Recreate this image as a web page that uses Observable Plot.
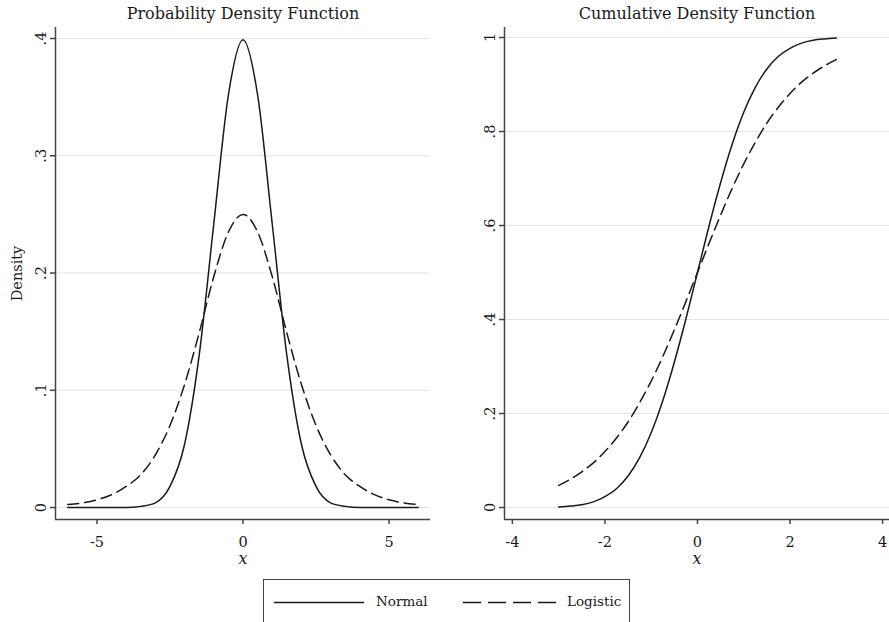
<!DOCTYPE html>
<html>
<head>
<meta charset="utf-8">
<script src="https://cdn.jsdelivr.net/npm/d3@7"></script>
<script src="https://cdn.jsdelivr.net/npm/@observablehq/plot@0.6"></script>
<style>
  html, body { margin: 0; padding: 0; background: #fff; overflow: hidden; }
  #wrap { position: relative; width: 889px; height: 622px; font-family: "DejaVu Serif", "Liberation Serif", serif; color: #1a1a1a; }
  .title { position: absolute; top: 4px; font-size: 16px; text-align: center; white-space: nowrap; }
  .plot { position: absolute; top: 0; }
  #legend { position: absolute; left: 263px; top: 579px; width: 367px; height: 50px; border: 1.5px solid #444; box-sizing: border-box; background: #fff; }
  #legend svg { position: absolute; left: 0; top: 0; }
  #legend span { position: absolute; top: 13px; font-size: 13.5px; }
</style>
</head>
<body>
<div id="wrap">
  <div class="title" style="left:0;width:486px;">Probability Density Function</div>
  <div class="title" style="left:445px;width:504px;">Cumulative Density Function</div>
  <div id="left" class="plot" style="left:0;"></div>
  <div id="right" class="plot" style="left:445px;"></div>
  <div id="legend">
    <svg width="367" height="50">
      <line x1="10" x2="100" y1="22.5" y2="22.5" stroke="#1a1a1a" stroke-width="1.6"/>
      <line x1="199" x2="292" y1="22.5" y2="22.5" stroke="#1a1a1a" stroke-width="1.6" stroke-dasharray="18,7"/>
    </svg>
    <span style="left:112px;">Normal</span>
    <span style="left:303px;">Logistic</span>
  </div>
</div>
<script>
// ---- Data ----
// PDF panel
const pdfX = [-6,-5.5,-5,-4.5,-4,-3.5,-3,-2.5,-2,-1.5,-1,-0.5,0,0.5,1,1.5,2,2.5,3,3.5,4,4.5,5,5.5,6];
const pdfNormal = [0,0,0,0,0,0.001,0.004,0.018,0.054,0.130,0.242,0.352,0.399,0.352,0.242,0.130,0.054,0.018,0.004,0.001,0,0,0,0,0];
const pdfLogistic = [0.0025,0.004,0.0066,0.011,0.018,0.028,0.045,0.070,0.105,0.149,0.197,0.235,0.250,0.235,0.197,0.149,0.105,0.070,0.045,0.028,0.018,0.011,0.0066,0.004,0.0025];
// CDF panel
const cdfX = [-3,-2.75,-2.5,-2.25,-2,-1.75,-1.5,-1.25,-1,-0.75,-0.5,-0.25,0,0.25,0.5,0.75,1,1.25,1.5,1.75,2,2.25,2.5,2.75,3];
const cdfNormal = [0.001,0.003,0.006,0.012,0.023,0.040,0.067,0.106,0.159,0.227,0.309,0.401,0.5,0.599,0.691,0.773,0.841,0.894,0.933,0.960,0.977,0.988,0.994,0.997,0.999];
const cdfLogistic = [0.047,0.060,0.076,0.095,0.119,0.148,0.182,0.223,0.269,0.321,0.378,0.438,0.5,0.562,0.622,0.679,0.731,0.777,0.818,0.852,0.881,0.905,0.924,0.940,0.953];
// Tick labels
const pdfXTicks = [-5, 0, 5];
const pdfYTicks = [0, 0.1, 0.2, 0.3, 0.4];
const cdfXTicks = [-4, -2, 0, 2, 4];
const cdfYTicks = [0, 0.2, 0.4, 0.6, 0.8, 1];

const toRows = (xs, ys) => xs.map((x, i) => ({x, y: ys[i]}));
const fmtY = d => d === 0 ? "0" : String(d).replace(/^0\./, ".");
const fmtX = d => String(d); // plain hyphen minus as in the reference

const ink = "#1a1a1a", axisInk = "#444", gridInk = "#e4e4e4";
const font = {fontFamily: "DejaVu Serif, Liberation Serif, serif", fontSize: "14px", color: ink, background: "transparent", overflow: "visible"};

function panel({xs, a, b, xDomain, yDomain, xTicks, yTicks, width, marginLeft, marginRight, yLabel}) {
  return Plot.plot({
    width, height: 575,
    marginLeft, marginRight, marginTop: 27, marginBottom: 56,
    style: font,
    x: {domain: xDomain},
    y: {domain: yDomain},
    marks: [
      Plot.gridY(yTicks, {stroke: gridInk, strokeOpacity: 1, strokeWidth: 1}),
      Plot.ruleX([xDomain[0]], {stroke: axisInk, strokeWidth: 1.5}),
      Plot.ruleY([yDomain[0]], {stroke: axisInk, strokeWidth: 1.5}),
      Plot.axisX(xTicks, {tickSize: 5, tickPadding: 12, tickFormat: fmtX, stroke: axisInk, strokeWidth: 1.5, fontSize: 14.5, label: null}),
      Plot.axisY(yTicks, {tickSize: 5, tickPadding: 5, tickRotate: -90, textAnchor: "middle", lineAnchor: "bottom",
        tickFormat: fmtY, stroke: axisInk, strokeWidth: 1.5, fontSize: 14.5,
        label: yLabel, labelAnchor: "center", labelOffset: 44, labelArrow: "none"}),
      Plot.text(["x"], {frameAnchor: "bottom", dy: 44, fontStyle: "italic", fontSize: 16, fill: ink}),
      Plot.line(toRows(xs, a), {x: "x", y: "y", stroke: ink, strokeWidth: 1.5, curve: "monotone-x"}),
      Plot.line(toRows(xs, b), {x: "x", y: "y", stroke: ink, strokeWidth: 1.5, curve: "monotone-x", strokeDasharray: "11,6"})
    ]
  });
}

document.getElementById("left").append(panel({
  xs: pdfX, a: pdfNormal, b: pdfLogistic,
  xDomain: [-6.42, 6.42], yDomain: [-0.0102, 0.4094],
  xTicks: pdfXTicks, yTicks: pdfYTicks,
  width: 445, marginLeft: 55, marginRight: 15, yLabel: "Density"
}));
document.getElementById("right").append(panel({
  xs: cdfX, a: cdfNormal, b: cdfLogistic,
  xDomain: [-4.17, 4.15], yDomain: [-0.0255, 1.0213],
  xTicks: cdfXTicks, yTicks: cdfYTicks,
  width: 444, marginLeft: 59, marginRight: 0, yLabel: null
}));
</script>
</body>
</html>
